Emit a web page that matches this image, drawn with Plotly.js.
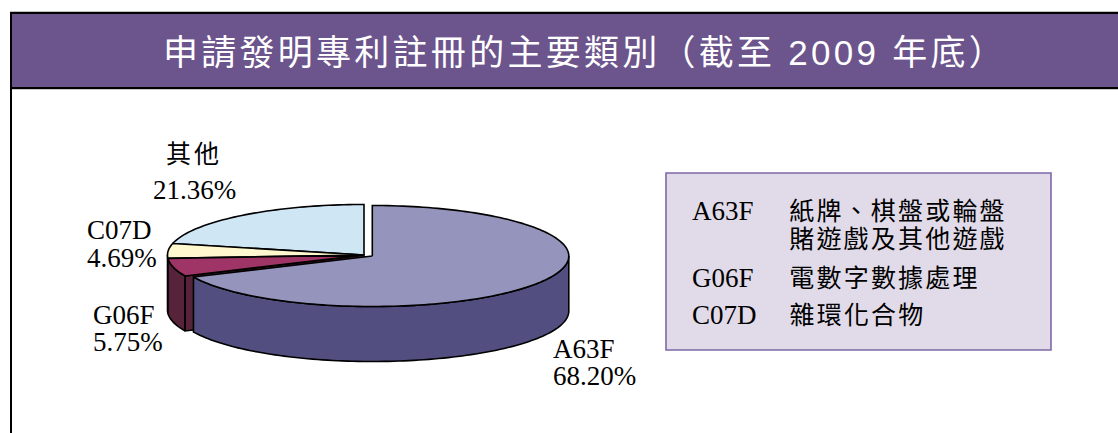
<!DOCTYPE html>
<html>
<head>
<meta charset="utf-8">
<script src="https://cdn.plot.ly/plotly-3.0.1.min.js"></script>
<style>
html,body{margin:0;padding:0;background:#fff;overflow:hidden}
#chart{width:1118px;height:433px}
.gtitle{letter-spacing:3.27px}
</style>
</head>
<body>
<div id="chart"></div>
<script>
// ---- data ----
var categories = ['A63F', 'G06F', 'C07D', '其他'];
var values = [68.20, 5.75, 4.69, 21.36];
var topColors = ['#9594BD', '#9F3566', '#FFF8CF', '#CFE6F5'];
var wallColors = ['#524F80', '#56233A', '#807C68', '#687380'];
var legendCodes = ['A63F', '', 'G06F', 'C07D'];
var legendTexts = ['紙牌、棋盤或輪盤', '賭遊戲及其他遊戲', '電數字數據處理', '雜環化合物'];
var chartTitle = '申請發明專利註冊的主要類別（截至 2009 年底）';

// ---- pie geometry (pixel units of the fixed axes) ----
var W = 1118, H = 433;
var rx = 196.5, ry = 50.5, depth = 55;
var centers = [[372.3, 256], [364, 255], [364, 255], [364, 255]];
var labelPos = [[552, 348.5, 552, 375.5], [92, 314.5, 92, 341.5], [86, 230, 86, 258], [168, 154, 152, 190]];
var legendRows = [211, 239, 278, 315];

function rim(c, deg, dy) {
  var t = deg * Math.PI / 180;
  return [c[0] + rx * Math.sin(t), c[1] - ry * Math.cos(t) + (dy || 0)];
}
function arc(c, a0, a1, dy) {
  var n = Math.max(2, Math.ceil(Math.abs(a1 - a0) / 1.5)), out = [];
  for (var i = 0; i <= n; i++) out.push(rim(c, a0 + (a1 - a0) * i / n, dy));
  return out;
}
function poly(pts, fill) {
  var first = pts[0];
  var closed = pts.concat([first]);
  return {
    type: 'scatter', mode: 'lines', fill: 'toself', fillcolor: fill,
    x: closed.map(function (p) { return p[0]; }),
    y: closed.map(function (p) { return p[1]; }),
    line: { color: '#000', width: 1.6, simplify: false },
    hoverinfo: 'skip', showlegend: false
  };
}
function topFace(i, a0, a1) {
  return poly([centers[i]].concat(arc(centers[i], a0, a1)), topColors[i]);
}
function wall(i, a0, a1) {
  var s = Math.max(a0, 90), e = Math.min(a1, 270);
  if (e <= s) return null;
  return poly(arc(centers[i], s, e).concat(arc(centers[i], e, s, depth)), wallColors[i]);
}
function cutFace(i, a) {
  var c = centers[i], p = rim(c, a);
  return poly([p, c, [c[0], c[1] + depth], [p[0], p[1] + depth]], wallColors[i]);
}

var starts = [], acc = 0;
values.forEach(function (v) { starts.push(acc); acc += v * 3.6; });
function endOf(i) { return starts[i] + values[i] * 3.6; }

var traces = [];
function add(t) { if (t) traces.push(t); }
add(topFace(3, starts[3], endOf(3)));
add(wall(2, starts[2], endOf(2)));
add(wall(1, starts[1], endOf(1)));
add(cutFace(1, starts[1]));
add(topFace(2, starts[2], endOf(2)));
add(topFace(1, starts[1], endOf(1)));
add(wall(0, starts[0], endOf(0)));
add(topFace(0, starts[0], endOf(0)));

// ---- text ----
var serif = '"Liberation Serif","Noto Sans CJK TC",serif';
var annotations = [], spacingCss = '';
function note(txt, x, y, size, spacing) {
  if (spacing) spacingCss += '.annotation[data-index="' + annotations.length + '"] .annotation-text{letter-spacing:' + spacing + 'px}\n';
  annotations.push({
    text: txt, x: x, y: y, xref: 'x', yref: 'y', xanchor: 'left', yanchor: 'middle',
    showarrow: false, borderpad: 0, font: { family: serif, size: size, color: '#000' }
  });
}
categories.forEach(function (c, i) {
  var p = labelPos[i];
  var cjk = /[\u3000-\u9fff]/.test(c);
  note(c, p[0], p[1], cjk ? 25 : 27, cjk ? 3 : 0);
  note(values[i].toFixed(2) + '%', p[2], p[3], 27);
});
legendTexts.forEach(function (t, i) {
  if (legendCodes[i]) note(legendCodes[i], 691, legendRows[i], 27);
  // letter spacing widens the text about its middle, so offset by half of it
  note(t, 788.2 + 1.1 * t.length, legendRows[i], 25, 2.2);
});
var styleEl = document.createElement('style');
styleEl.textContent = spacingCss;
document.head.appendChild(styleEl);

function hline(y, color, w, x0) {
  return { type: 'line', xref: 'x', yref: 'y', x0: x0, x1: W, y0: y, y1: y, line: { color: color, width: w } };
}
var shapes = [
  { type: 'rect', xref: 'x', yref: 'y', x0: 11, x1: W, y0: 13, y1: 88, fillcolor: '#6C548C', line: { width: 0 } },
  hline(11.5, '#bdbdbd', 1, 10),
  hline(13, '#000', 2, 10),
  hline(88, '#000', 2, 10),
  hline(89.5, '#c8c8c8', 1, 12),
  { type: 'line', xref: 'x', yref: 'y', x0: 11, x1: 11, y0: 12, y1: H, line: { color: '#000', width: 2 } },
  { type: 'rect', xref: 'x', yref: 'y', x0: 666, x1: 1051, y0: 173, y1: 350, fillcolor: '#E1DBE9', line: { color: '#7F68A6', width: 1.6 } }
];

var layout = {
  width: W, height: H,
  margin: { l: 0, r: 0, t: 0, b: 0, pad: 0 },
  paper_bgcolor: '#fff', plot_bgcolor: 'rgba(0,0,0,0)',
  showlegend: false,
  title: {
    text: chartTitle, x: 585 / W, xanchor: 'center', y: 1 - 53 / H, yanchor: 'middle', yref: 'paper',
    font: { family: '"Liberation Sans","Noto Sans CJK TC",sans-serif', size: 35, color: '#fff' }
  },
  xaxis: { range: [0, W], visible: false, fixedrange: true },
  yaxis: { range: [H, 0], visible: false, fixedrange: true },
  shapes: shapes,
  annotations: annotations
};

Plotly.newPlot('chart', traces, layout, { displayModeBar: false, staticPlot: true });
</script>
</body>
</html>
